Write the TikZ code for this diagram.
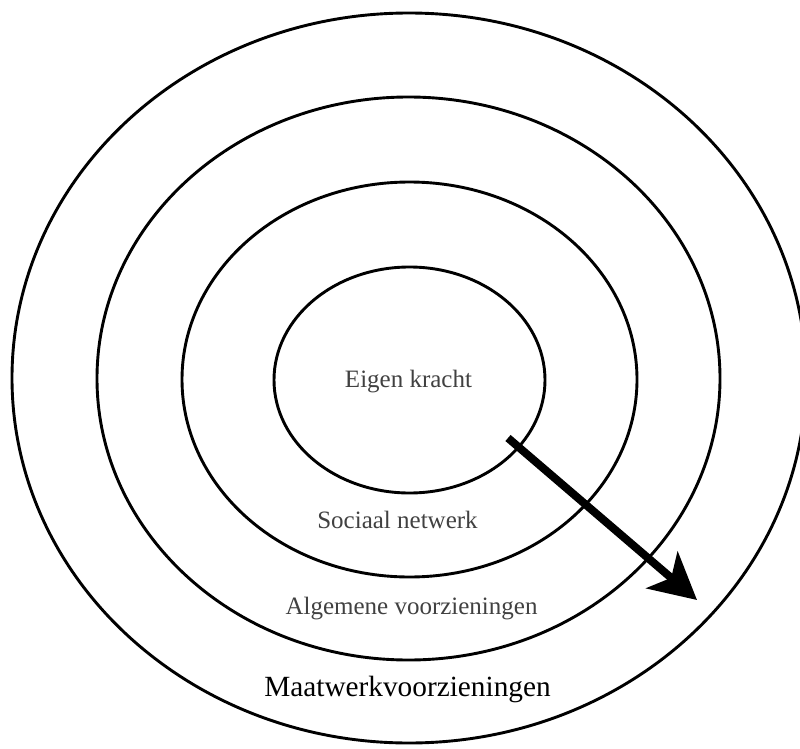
\documentclass[tikz,border=0pt]{standalone}
\usepackage{fontspec}
\setmainfont{Liberation Serif}
\usetikzlibrary{arrows.meta}
\definecolor{textgray}{RGB}{65,65,65}
\tikzset{
  ring/.style={draw=black, line width=2.9pt},
  lbl/.style={anchor=base, inner sep=0pt, text=textgray, font=\fontsize{25}{30}\selectfont},
  biglbl/.style={anchor=base, inner sep=0pt, text=black, font=\fontsize{29.3}{34}\selectfont},
  bigarrow/.style={line width=8pt, -{Stealth[length=46pt,width=48pt,inset=12pt]}}
}
\begin{document}
\begin{tikzpicture}[x=1pt,y=-1pt]
\useasboundingbox (0,0) rectangle (800,749);
\clip (0,0) rectangle (800,749);
\fill[white] (0,0) rectangle (800,749);
\draw[ring] (409,378) ellipse [x radius=397, y radius=365];
\draw[ring] (408.5,378.5) ellipse [x radius=311.5, y radius=281.5];
\draw[ring] (409.5,379.5) ellipse [x radius=227.5, y radius=197.5];
\draw[ring] (409.5,380) ellipse [x radius=135.5, y radius=113];
\node[lbl] (eigen) at (408.5,387) {Eigen kracht};
\node[lbl] (sociaal) at (397.5,528) {Sociaal netwerk};
\node[lbl] (algemeen) at (411.5,614) {Algemene voorzieningen};
\node[biglbl] (maatwerk) at (407.5,696) {Maatwerkvoorzieningen};
\coordinate (astart) at (508,438);
\coordinate (aend) at (697,600);
\draw[bigarrow] (astart) -- (aend);
\end{tikzpicture}
\end{document}
